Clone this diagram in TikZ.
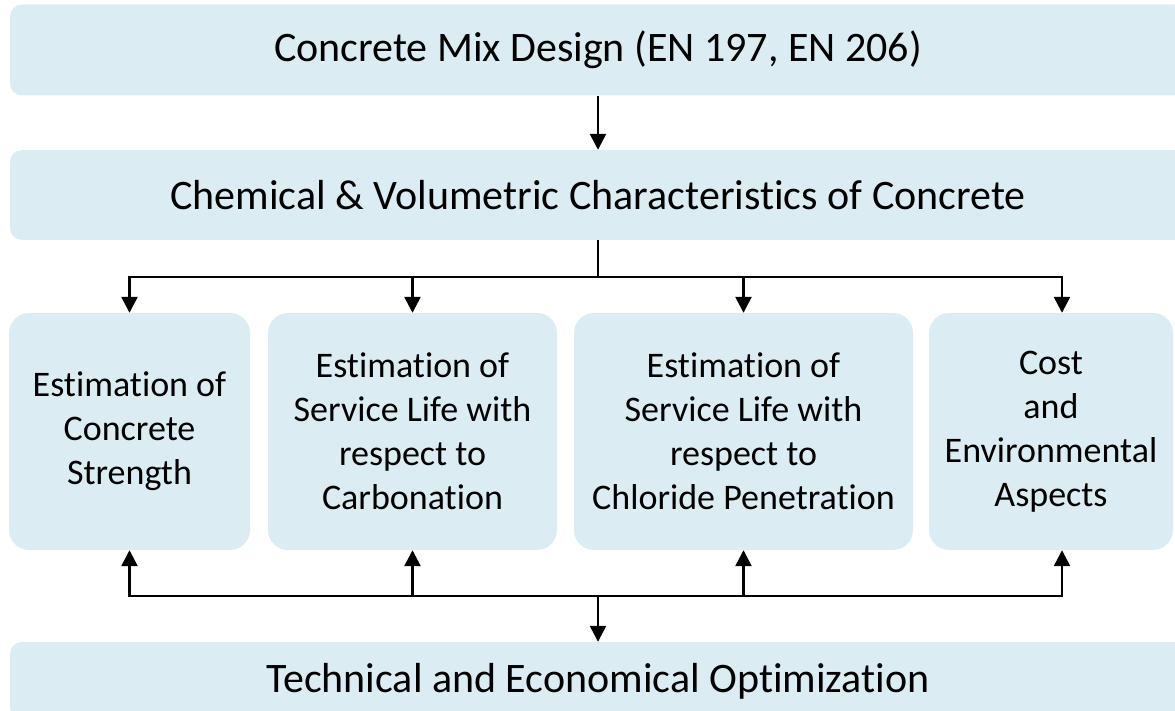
\documentclass[tikz,border=0pt]{standalone}
\usepackage{fontspec}
\setmainfont[RawFeature={-liga;-clig;-dlig;-calt;-rlig;-ccmp}]{Carlito}
\usepackage{xcolor}
\usepackage{tikz}
\usetikzlibrary{arrows.meta,positioning,calc}

\definecolor{boxblue}{HTML}{DBEDF3}

\begin{document}
\begin{tikzpicture}[x=1pt,y=-1pt,
    bar/.style={fill=boxblue, rounded corners=12pt, minimum width=1176pt,
      inner sep=0pt, font=\fontsize{42}{50}\selectfont},
    task/.style={fill=boxblue, rounded corners=20pt, minimum height=237pt,
      inner sep=0pt, align=center, font=\fontsize{36}{44}\selectfont},
    link/.style={line width=2.5pt},
    arr/.style={link, -{Triangle[width=16pt,length=16pt]}}]
  \useasboundingbox (0,0) rectangle (1175,711);

  \node[bar, minimum height=91pt] (mix) at (598,50) {Concrete Mix Design (EN 197, EN 206)};
  \node[bar, minimum height=90pt] (chem) at (598,195) {Chemical \& Volumetric Characteristics of Concrete};

  \node[task, minimum width=241pt] (est1) at (129.5,431.5) {Estimation of\\Concrete\\Strength};
  \node[task, minimum width=289pt] (est2) at (412.5,431.5) {Estimation of\\Service Life with\\respect to\\Carbonation};
  \node[task, minimum width=339pt] (est3) at (743.5,431.5) {Estimation of\\Service Life with\\respect to\\Chloride Penetration};
  \node[task, minimum width=244pt] (cost) at (1051,431.5) {Cost\\and\\Environmental\\Aspects};

  \node[bar, minimum height=78pt] (opt) at (598,681) {Technical and Economical Optimization};

  \coordinate (split) at (598,277);
  \coordinate (merge) at (598,596);

  \draw[arr] (mix) -- (chem);
  \draw[link] (chem) -- (split);
  \foreach \b in {est1,est2,est3} {
    \draw[arr] (split) -| (\b);
    \draw[arr] (merge) -| (\b);
  }
  \draw[arr] (split) -| ([xshift=11pt]cost.north);
  \draw[arr] (merge) -| ([xshift=11pt]cost.south);
  \draw[arr] (merge) -- (opt);
\end{tikzpicture}
\end{document}
